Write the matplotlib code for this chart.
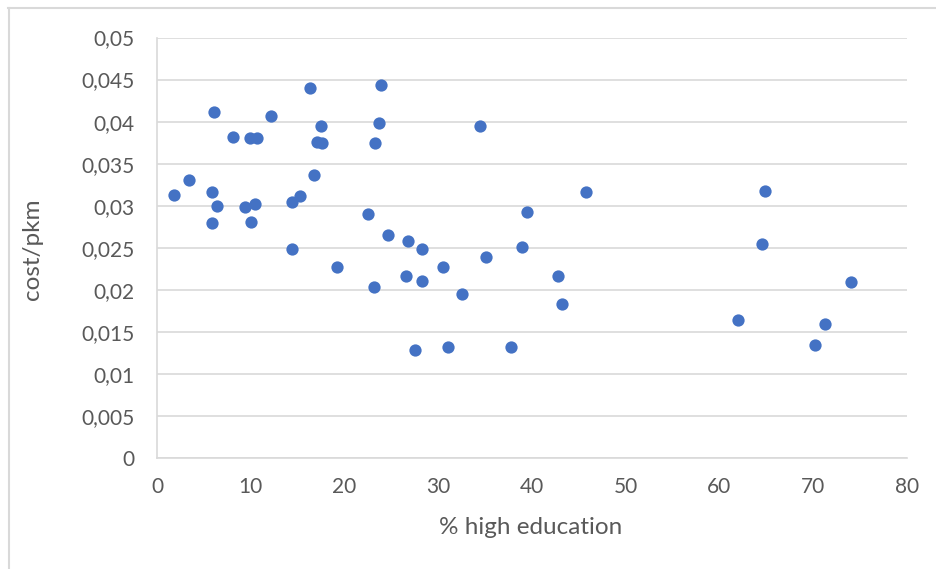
import matplotlib
matplotlib.use("Agg")
import matplotlib.pyplot as plt
from matplotlib.lines import Line2D
from matplotlib.ticker import FuncFormatter, MultipleLocator

# Data
high_education = [1.8, 3.4, 6.1, 5.9, 6.4, 5.9, 8.1, 9.9, 10.7, 9.4, 10.4, 10.0,
                  12.2, 14.4, 15.2, 14.4, 16.3, 16.7, 17.1, 17.6, 17.5, 19.2,
                  22.5, 23.1, 23.3, 23.7, 23.9, 24.6, 26.8, 26.6, 28.3, 28.3,
                  27.5, 30.5, 31.0, 32.5, 34.4, 35.1, 37.8, 38.9, 39.5, 42.8,
                  43.2, 45.8, 62.0, 64.5, 64.9, 70.2, 71.2, 74.0]
cost_per_pkm = [0.0313, 0.0330, 0.0412, 0.0316, 0.0300, 0.0279, 0.0382, 0.0380,
                0.0381, 0.0299, 0.0302, 0.0281, 0.0407, 0.0304, 0.0311, 0.0248,
                0.0440, 0.0337, 0.0376, 0.0375, 0.0395, 0.0227, 0.0290, 0.0203,
                0.0375, 0.0398, 0.0444, 0.0265, 0.0258, 0.0217, 0.0249, 0.0210,
                0.0129, 0.0227, 0.0132, 0.0195, 0.0395, 0.0239, 0.0132, 0.0251,
                0.0292, 0.0217, 0.0183, 0.0316, 0.0164, 0.0255, 0.0318, 0.0134,
                0.0159, 0.0209]

x_label = "% high education"
y_label = "cost/pkm"

plt.rcParams['font.family'] = ['Lato', 'DejaVu Sans']

fig = plt.figure(figsize=(9.36, 5.69), dpi=100)
ax = fig.add_axes([157/936, 1 - 458/569, (907-157)/936, (458-37.5)/569])

ax.scatter(high_education, cost_per_pkm, s=78, color='#4472C4', linewidths=0, zorder=3)

ax.set_xlim(0, 80)
ax.set_ylim(0, 0.05)
ax.xaxis.set_major_locator(MultipleLocator(10))
ax.yaxis.set_major_locator(MultipleLocator(0.005))

def yfmt(v, pos):
    if abs(v) < 1e-12:
        return "0"
    s = ("%.3f" % v).rstrip('0')
    return s.replace('.', ',')

ax.yaxis.set_major_formatter(FuncFormatter(yfmt))
ax.xaxis.set_major_formatter(FuncFormatter(lambda v, p: "%d" % v))

ax.grid(axis='y', color='#d9d9d9', linewidth=1.2, zorder=0)
for side in ['top', 'right']:
    ax.spines[side].set_visible(False)
for side in ['left', 'bottom']:
    ax.spines[side].set_color('#d9d9d9')
    ax.spines[side].set_linewidth(1.2)

ax.tick_params(axis='both', length=0, labelsize=15, labelcolor='#595959')
ax.tick_params(axis='y', pad=16)
ax.tick_params(axis='x', pad=14)

fig.text(33/936, 1 - 249/569, y_label, rotation=90, ha='center', va='center',
         fontsize=17.5, color='#595959')
fig.text(531/936, 1 - 528/569, x_label, ha='center', va='center',
         fontsize=17.5, color='#595959')

# outer chart border (top and left visible)
fig.add_artist(Line2D([8/936, 1], [1 - 8/569, 1 - 8/569], transform=fig.transFigure,
                      color='#d9d9d9', linewidth=1.5))
fig.add_artist(Line2D([9/936, 9/936], [0, 1 - 8/569], transform=fig.transFigure,
                      color='#d9d9d9', linewidth=1.5))

fig.savefig("out.png", dpi=100, facecolor='white')
